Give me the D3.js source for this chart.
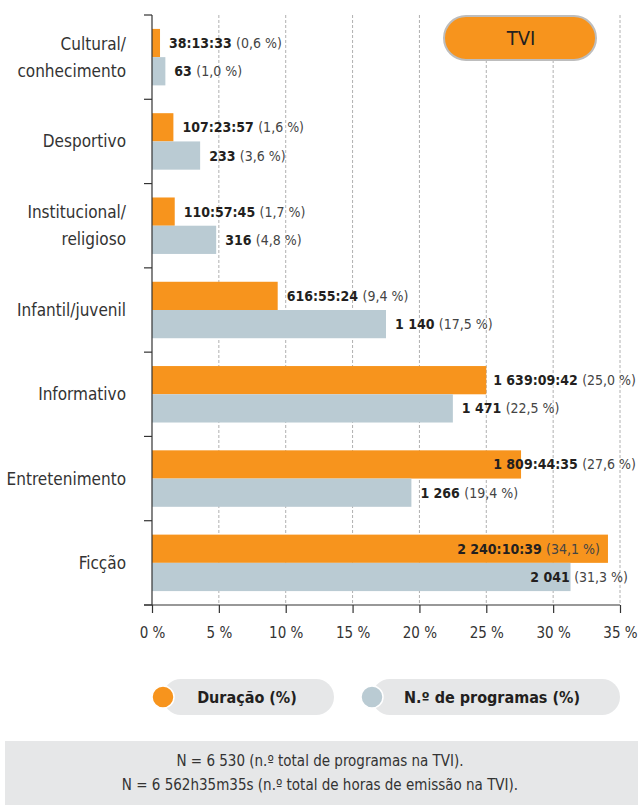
<!DOCTYPE html>
<html>
<head>
<meta charset="utf-8">
<script src="https://cdn.jsdelivr.net/npm/d3@7"></script>
<style>
  body { margin: 0; background: #fff; }
  svg text { font-family: "DejaVu Sans Condensed", "Liberation Sans Narrow", sans-serif; }
</style>
</head>
<body>
<script>
// chart data
const categories = ['Cultural/\nconhecimento', 'Desportivo', 'Institucional/\nreligioso', 'Infantil/juvenil', 'Informativo', 'Entretenimento', 'Ficção'];
const durationPct = [0.6, 1.6, 1.7, 9.4, 25.0, 27.6, 34.1];
const durationText = ['38:13:33', '107:23:57', '110:57:45', '616:55:24', '1 639:09:42', '1 809:44:35', '2 240:10:39'];
const programsPct = [1.0, 3.6, 4.8, 17.5, 22.5, 19.4, 31.3];
const programsText = ['63', '233', '316', '1 140', '1 471', '1 266', '2 041'];
const xTicks = [0, 5, 10, 15, 20, 25, 30, 35];
const seriesNames = ['Duração (%)', 'N.º de programas (%)'];
const channel = 'TVI';
const footnotes = ['N = 6 530 (n.º total de programas na TVI).', 'N = 6 562h35m35s (n.º total de horas de emissão na TVI).'];

const orange = '#f7941d';
const grey = '#bacbd3';
const pill = '#e6e7e8';

const width = 638, height = 805;
const svg = d3.select('body').append('svg')
  .attr('width', width)
  .attr('height', height);

const x = d3.scaleLinear().domain([0, 35]).range([152, 620]);
const y = d3.scaleBand().domain(categories).range([15, 605]).paddingInner(0.33).paddingOuter(0.165);
const sub = d3.scaleBand().domain(['dur', 'prog']).range([0, y.bandwidth()]);

const fmtPct = v => d3.format('.1f')(v).replace('.', ',');

// dashed grid
svg.append('g').selectAll('line').data(xTicks.slice(1)).enter()
  .append('line')
  .attr('x1', d => x(d)).attr('x2', d => x(d))
  .attr('y1', 15).attr('y2', 605)
  .style('stroke', '#b0b0b0').style('stroke-width', 1)
  .style('stroke-dasharray', '3,2');

// channel badge
svg.append('rect')
  .attr('x', 444).attr('y', 16).attr('width', 152).attr('height', 44).attr('rx', 22)
  .style('fill', orange).style('stroke', '#bdbdbd').style('stroke-width', 2);
svg.append('text')
  .attr('x', 521).attr('y', 45)
  .attr('text-anchor', 'middle')
  .style('font-size', '20px').style('fill', '#231f20')
  .text(channel);

// bars
const rows = categories.map((c, i) => ({
  cat: c,
  items: [
    { key: 'dur', v: durationPct[i], bold: durationText[i], color: orange },
    { key: 'prog', v: programsPct[i], bold: programsText[i], color: grey }
  ]
}));

const groups = svg.append('g').selectAll('g').data(rows).enter()
  .append('g')
  .attr('transform', d => 'translate(0,' + y(d.cat) + ')');

groups.selectAll('rect').data(d => d.items).enter()
  .append('rect')
  .attr('x', x(0))
  .attr('y', d => sub(d.key))
  .attr('width', d => x(d.v) - x(0))
  .attr('height', sub.bandwidth())
  .style('fill', d => d.color);

// value labels
groups.selectAll('text.val').data(d => d.items).enter()
  .append('text')
  .attr('class', 'val')
  .attr('y', d => sub(d.key) + sub.bandwidth() / 2 + 5)
  .style('font-size', '14px').style('fill', '#231f20')
  .each(function (d) {
    const t = d3.select(this);
    t.append('tspan').style('font-weight', 'bold').text(d.bold + ' ');
    t.append('tspan').style('fill', '#444').text('(' + fmtPct(d.v) + ' %)');
    const w = this.getComputedTextLength();
    const end = x(d.v);
    let left = end + 9;
    if (left + w > 636) {
      left = end >= x(34) ? end - 8 - w : (end > x(30) ? 628 - w : 636 - w);
    }
    t.attr('x', left);
  });

// axes
svg.append('line')
  .attr('x1', x(0)).attr('x2', x(0)).attr('y1', 15).attr('y2', 605)
  .style('stroke', '#333').style('stroke-width', 1.2);
const seps = d3.range(categories.length + 1).map(i => 15 + i * y.step());
svg.append('g').selectAll('line').data(seps).enter()
  .append('line')
  .attr('x1', 144).attr('x2', x(0))
  .attr('y1', d => d).attr('y2', d => d)
  .style('stroke', '#333').style('stroke-width', 1.2);

const xAxis = svg.append('g')
  .attr('transform', 'translate(0,605)')
  .call(d3.axisBottom(x).tickValues(xTicks).tickSize(8).tickPadding(14).tickFormat(d => d + ' %'));
xAxis.select('.domain').attr('d', 'M144,0H' + x(35)).style('stroke', '#333').style('stroke-width', 1.2);
xAxis.selectAll('.tick line').style('stroke', '#333').style('stroke-width', 1.2);
xAxis.selectAll('.tick text')
  .style('font-size', '15px').style('fill', '#333')
  .style('font-family', '"DejaVu Sans Condensed", sans-serif');

// category labels
svg.append('g').selectAll('text').data(categories).enter()
  .append('text')
  .attr('text-anchor', 'end')
  .style('font-size', '17px').style('fill', '#333')
  .each(function (d) {
    const lines = d.split('\n');
    const cy = y(d) + y.bandwidth() / 2;
    const t = d3.select(this);
    lines.forEach((ln, k) => {
      t.append('tspan')
        .attr('x', 126)
        .attr('y', cy + 6 + (k - (lines.length - 1) / 2) * 27)
        .text(ln);
    });
  });

// legend
const legend = [
  { name: seriesNames[0], color: orange, x0: 163, x1: 334, tx: 247 },
  { name: seriesNames[1], color: grey, x0: 372, x1: 620, tx: 492 }
];
const lg = svg.append('g').selectAll('g').data(legend).enter().append('g');
lg.append('rect')
  .attr('x', d => d.x0).attr('y', 679)
  .attr('width', d => d.x1 - d.x0).attr('height', 36).attr('rx', 18)
  .style('fill', pill);
lg.append('circle')
  .attr('cx', d => d.x0).attr('cy', 697).attr('r', 11)
  .style('fill', d => d.color).style('stroke', '#fff').style('stroke-width', 1.5);
lg.append('text')
  .attr('x', d => d.tx).attr('y', 703)
  .attr('text-anchor', 'middle')
  .style('font-size', '16px').style('font-weight', 'bold').style('fill', '#231f20')
  .text(d => d.name);

// footnote box
svg.append('rect')
  .attr('x', 5).attr('y', 741).attr('width', width - 5).attr('height', height - 741)
  .style('fill', pill);
svg.append('g').selectAll('text').data(footnotes).enter()
  .append('text')
  .attr('x', 320)
  .attr('y', (d, i) => 766 + i * 24)
  .attr('text-anchor', 'middle')
  .style('font-size', '15px').style('fill', '#333')
  .text(d => d);
</script>
</body>
</html>
